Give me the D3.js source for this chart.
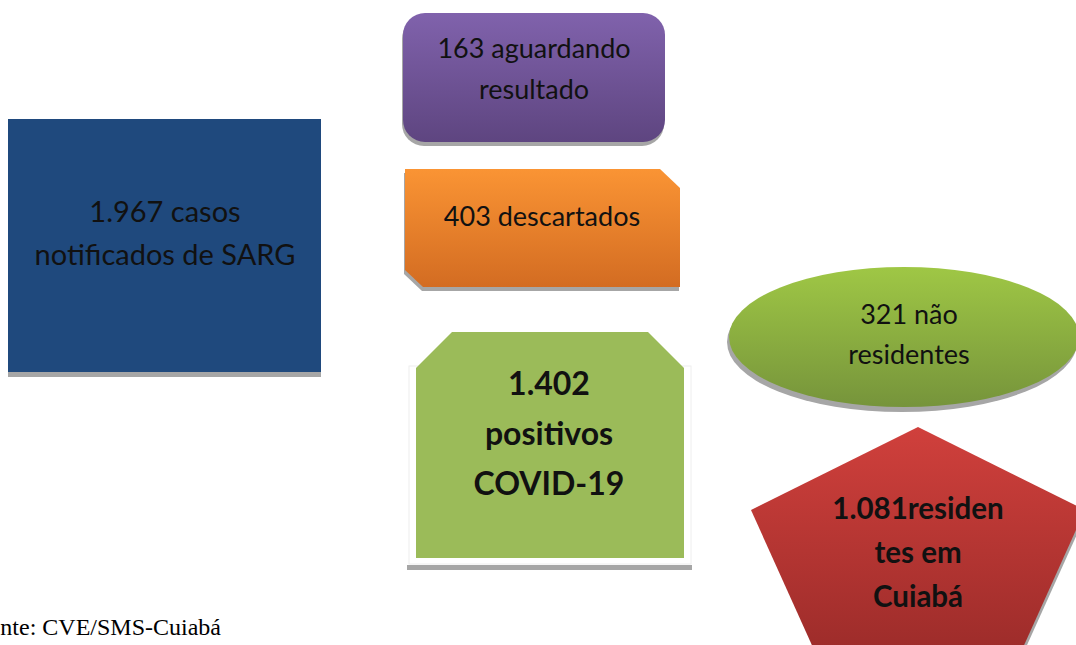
<!DOCTYPE html>
<html>
<head>
<meta charset="utf-8">
<script src="https://cdn.jsdelivr.net/npm/d3@7"></script>
<style>
  body { margin: 0; background: #fff; }
  svg { display: block; }
</style>
</head>
<body>
<svg id="diagram" width="1076" height="645"></svg>
<script>
// figures from the flow diagram
var nodeIds = ["total", "aguardando", "descartados", "positivos", "naoResidentes", "residentes"];
var nodeValues = [1967, 163, 403, 1402, 321, 1081];
var nodeLines = [
  ["1.967 casos", "notificados de SARG"],
  ["163 aguardando", "resultado"],
  ["403 descartados"],
  ["1.402", "positivos", "COVID-19"],
  ["321 não", "residentes"],
  ["1.081residen", "tes em", "Cuiabá"]
];
var sourceNote = "Fonte: CVE/SMS-Cuiabá";

var svg = d3.select("#diagram");
var defs = svg.append("defs");

function grad(id, c1, c2) {
  var g = defs.append("linearGradient").attr("id", id)
    .attr("x1", 0).attr("y1", 0).attr("x2", 0).attr("y2", 1);
  g.append("stop").attr("offset", "0%").attr("stop-color", c1);
  g.append("stop").attr("offset", "100%").attr("stop-color", c2);
}
grad("gPurple", "#8062ac", "#5e4580");
grad("gOrange", "#fa9434", "#d36c22");
grad("gGreen", "#9fc745", "#76943b");
grad("gRed", "#d0403c", "#9d2c2a");

var shadow = "#a6a6a6";
var line = d3.line();

// blue box
var g0 = svg.append("g");
g0.append("rect").attr("x", 8).attr("y", 123).attr("width", 313).attr("height", 254).attr("fill", shadow);
g0.append("rect").attr("x", 8).attr("y", 119).attr("width", 313).attr("height", 253).attr("fill", "#1f497d");

// purple rounded box
var g1 = svg.append("g");
g1.append("rect").attr("x", 402).attr("y", 17).attr("width", 262).attr("height", 129).attr("rx", 22).attr("fill", shadow);
g1.append("rect").attr("x", 403).attr("y", 13).attr("width", 262).attr("height", 129).attr("rx", 22).attr("fill", "url(#gPurple)");

// orange snipped box
var orangePts = [[405, 169], [660, 169], [680, 188], [680, 287], [423, 287], [405, 270]];
var g2 = svg.append("g");
g2.append("path").attr("d", line(orangePts.map(p => [p[0] - 1, p[1] + 4])) + "Z").attr("fill", shadow);
g2.append("path").attr("d", line(orangePts) + "Z").attr("fill", "url(#gOrange)");

// green octagon-top box
var greenPts = [[452, 332], [648, 332], [684, 368], [684, 558], [416, 558], [416, 368]];
var g3 = svg.append("g");
g3.append("rect").attr("x", 407).attr("y", 565).attr("width", 285).attr("height", 5).attr("fill", shadow);
g3.append("rect").attr("x", 409).attr("y", 366).attr("width", 282).attr("height", 198).attr("fill", "#fff").attr("stroke", "#eee");
g3.append("path").attr("d", line(greenPts) + "Z").attr("fill", "#9bbb59");

// ellipse
var g4 = svg.append("g");
g4.append("ellipse").attr("cx", 902).attr("cy", 342).attr("rx", 175).attr("ry", 70).attr("fill", shadow);
g4.append("ellipse").attr("cx", 904).attr("cy", 337).attr("rx", 175).attr("ry", 70).attr("fill", "url(#gGreen)");

// pentagon
var redPts = [[918, 427], [1085, 510], [1021, 652], [815, 652], [751, 510]];
var g5 = svg.append("g");
g5.append("path").attr("d", line(redPts.map(p => [p[0] + 2, p[1] + 2])) + "Z").attr("fill", shadow);
g5.append("path").attr("d", line(redPts) + "Z").attr("fill", "url(#gRed)");

// labels
var labelPos = [
  {x: 165, y: 210, dy: 43, size: 29, bold: false},
  {x: 534, y: 47, dy: 41, size: 27, bold: false},
  {x: 542, y: 215, dy: 0, size: 27, bold: false},
  {x: 549, y: 382, dy: 50, size: 32, bold: true},
  {x: 909, y: 313, dy: 40, size: 27, bold: false},
  {x: 918, y: 507, dy: 44, size: 29.5, bold: true}
];

nodeLines.forEach(function(lines, i) {
  var p = labelPos[i];
  svg.append("text")
    .attr("class", "label " + nodeIds[i])
    .attr("data-value", nodeValues[i])
    .attr("text-anchor", "middle")
    .attr("font-family", "Lato, 'Open Sans', sans-serif")
    .attr("font-size", p.size)
    .attr("font-weight", p.bold ? "bold" : "normal")
    .attr("fill", "#111")
    .selectAll("tspan").data(lines).enter().append("tspan")
    .attr("x", p.x)
    .attr("y", (d, j) => p.y + j * p.dy)
    .attr("dominant-baseline", "central")
    .text(d => d);
});

// source note, cut at the left edge as in the original
svg.append("text")
  .attr("x", -25).attr("y", 635)
  .attr("font-family", "'Liberation Serif', 'Times New Roman', serif")
  .attr("font-size", 24)
  .attr("fill", "#000")
  .text(sourceNote);
</script>
</body>
</html>
